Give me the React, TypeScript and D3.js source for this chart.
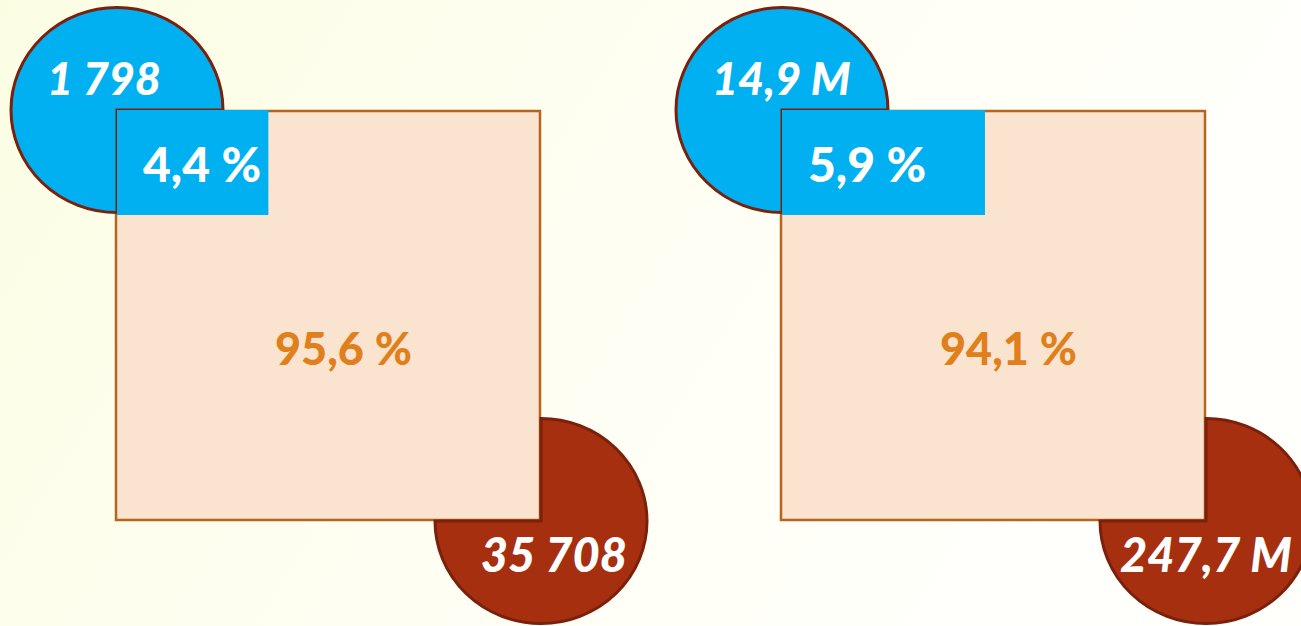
import * as d3 from "d3";
import {useEffect, useRef} from "react";

// two panels: share of a small group inside a total
const smallLabels = ["1 798", "14,9 M"];
const bigLabels = ["35 708", "247,7 M"];
const smallShare = [4.4, 5.9];
const bigShare = [95.6, 94.1];

const fmt = (v: number) => v.toFixed(1).replace(".", ",") + " %";

export default function App() {
    const ref = useRef<SVGSVGElement | null>(null);

    useEffect(() => {
        const width = 1301, height = 626;
        const svg = d3.select(ref.current);
        svg.selectAll("*").remove();

        const defs = svg.append("defs");
        const grad = defs.append("linearGradient")
            .attr("id", "bg")
            .attr("x1", "0").attr("y1", "0")
            .attr("x2", "1").attr("y2", "0.3");
        grad.append("stop").attr("offset", "0%").attr("stop-color", "#fbfde3");
        grad.append("stop").attr("offset", "55%").attr("stop-color", "#fefef3");
        grad.append("stop").attr("offset", "100%").attr("stop-color", "#fffffc");

        svg.append("rect")
            .attr("width", width).attr("height", height)
            .attr("fill", "url(#bg)");

        // panel position
        const px = d3.scaleBand<number>()
            .domain([0, 1])
            .range([116, 1446])
            .paddingInner(0);
        const sqW = 424, sqH = 409, sqTop = 111;
        // width of the blue strip follows the small share
        const stripW = d3.scaleLinear().domain([0, 10]).range([0, 344]);
        const stripH = 104;
        const rx = 106, ry = 102.5;

        const arc = d3.arc<any>().innerRadius(0).outerRadius(rx);

        const fontFam = "Lato, 'Open Sans', sans-serif";

        smallShare.forEach((s, i) => {
            const x0 = px(i)!;
            const g = svg.append("g");

            // big square
            g.append("rect")
                .attr("x", x0).attr("y", sqTop)
                .attr("width", sqW).attr("height", sqH)
                .attr("fill", "#fae4cf")
                .attr("stroke", "#b5651d")
                .attr("stroke-width", 2.5);

            // blue pie on top-left corner
            const cx = x0 + 1, cy = sqTop - 1;
            g.append("path")
                .attr("d", arc({startAngle: Math.PI, endAngle: 2.5 * Math.PI}))
                .attr("transform", `translate(${cx},${cy}) scale(1,${ry / rx})`)
                .attr("fill", "#00b0f0")
                .attr("stroke", "#7a200c")
                .attr("stroke-width", 3);

            // red pie on bottom-right corner
            const bx = x0 + sqW + 1, by = sqTop + sqH + 1;
            g.append("path")
                .attr("d", arc({startAngle: 0, endAngle: 1.5 * Math.PI}))
                .attr("transform", `translate(${bx},${by}) scale(1,${ry / rx})`)
                .attr("fill", "#a52f0f")
                .attr("stroke", "#7a200c")
                .attr("stroke-width", 3);

            // blue strip
            g.append("rect")
                .attr("x", cx).attr("y", cy)
                .attr("width", stripW(s)).attr("height", stripH + 1)
                .attr("fill", "#00b0f0");

            g.append("text")
                .attr("x", cx - 70).attr("y", 95)
                .attr("fill", "#ffffff")
                .attr("font-family", fontFam)
                .attr("font-weight", 900)
                .attr("font-style", "italic")
                .attr("font-size", 45)
                .text(smallLabels[i]);

            g.append("text")
                .attr("x", x0 + 27).attr("y", 182)
                .attr("fill", "#ffffff")
                .attr("font-family", fontFam)
                .attr("font-weight", 900)
                .attr("font-size", 48)
                .text(fmt(s));

            g.append("text")
                .attr("x", x0 + 159).attr("y", 365)
                .attr("fill", "#e0801c")
                .attr("font-family", fontFam)
                .attr("font-weight", 900)
                .attr("font-size", 45)
                .text(fmt(bigShare[i]));

            g.append("text")
                .attr("x", bx + 86).attr("y", 572)
                .attr("text-anchor", "end")
                .attr("fill", "#ffffff")
                .attr("font-family", fontFam)
                .attr("font-weight", 900)
                .attr("font-style", "italic")
                .attr("font-size", 47)
                .text(bigLabels[i]);
        });
    }, []);

    return (
        <svg ref={ref} width={1301} height={626}
             style={{position: "fixed", left: 0, top: 0, display: "block"}}/>
    );
}
